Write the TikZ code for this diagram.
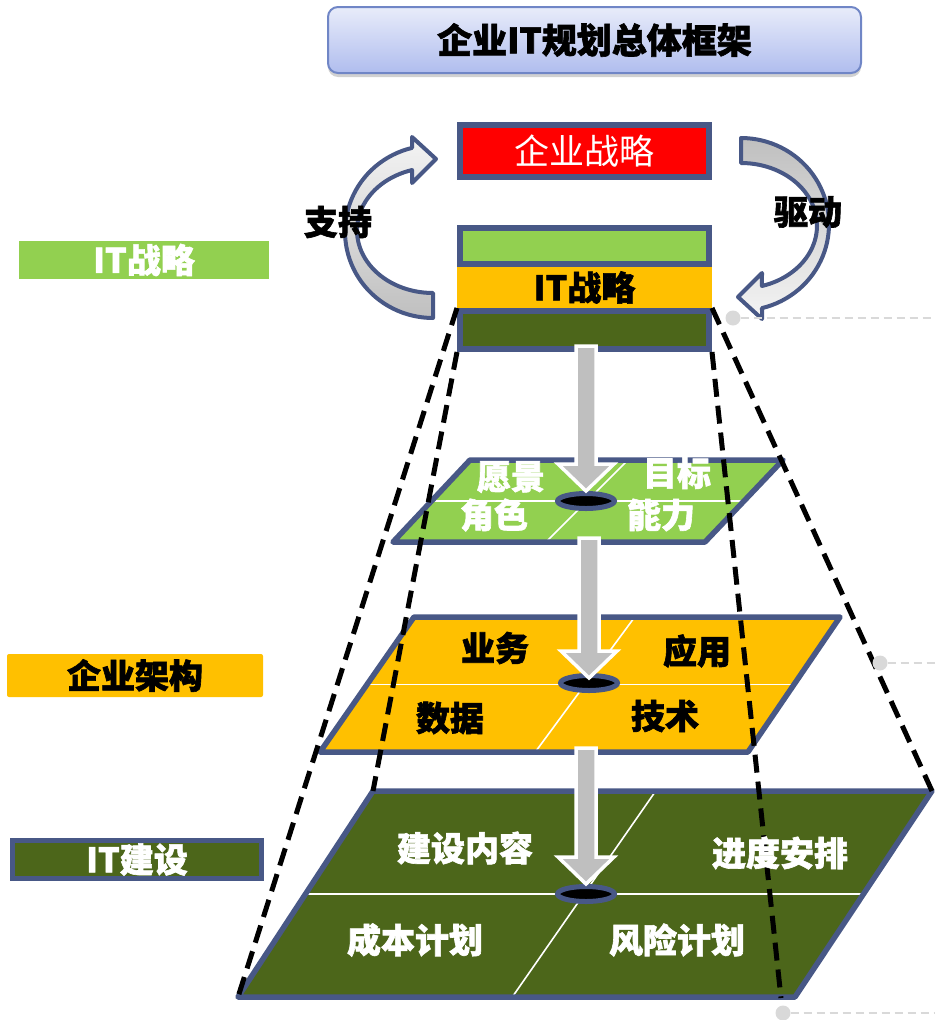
\documentclass[tikz,border=0pt]{standalone}
\usepackage{fontspec}
\setmainfont{Noto Sans CJK SC}[BoldFeatures={FakeBold=1.8}]
\usetikzlibrary{shadows,calc,shapes.geometric}
\definecolor{slate}{RGB}{72,88,134}
\definecolor{lgreen}{HTML}{92D050}
\definecolor{orng}{HTML}{FFC000}
\definecolor{dgreen}{HTML}{4C661A}
\definecolor{arrgray}{HTML}{BFBFBF}
\definecolor{arrlight}{HTML}{F4F4F4}
\definecolor{dotgray}{HTML}{D9D9D9}
\definecolor{titletop}{HTML}{E8ECFA}
\definecolor{titlebot}{HTML}{B0BDEE}
\definecolor{titleedge}{HTML}{7086C6}
\newcommand\blkarrow[2]{%
  \draw[blockarr] let \p1=(#1), \p2=(#2) in
   (\x2-10pt,\y1) -- (\x2-10pt,\y2+27pt) -- (\x2-28pt,\y2+27pt) -- (\x2,\y2)
   -- (\x2+28pt,\y2+27pt) -- (\x2+10pt,\y2+27pt) -- (\x2+10pt,\y1) -- cycle;}
\begin{document}
\begin{tikzpicture}[x=1pt,y=-1pt,
  lbl/.style={font=\fontsize{34}{36}\selectfont\bfseries, inner sep=0pt},
  regl/.style={font=\fontsize{35}{37}\selectfont, inner sep=0pt},
  box/.style={minimum width=249pt, inner sep=0pt, draw=slate, line width=6pt},
  para/.style={draw=slate, line width=5.5pt, line join=round},
  divline/.style={white, line width=1.6pt},
  hole/.style={ellipse, draw=slate, fill=black, line width=5pt, minimum width=57pt, minimum height=15pt, inner sep=0pt},
  blockarr/.style={draw=white, line width=3.5pt, fill=arrgray, line join=miter},
  pyrline/.style={black, line width=5pt, dash pattern=on 18pt off 9pt},
  guide/.style={dotgray, line width=2.5pt, dash pattern=on 8pt off 5pt},
  curvarr/.style={draw=slate, line width=4pt, line join=round},
]
\useasboundingbox (0,0) rectangle (935,1020);

% title
\node[font=\fontsize{35}{38}\selectfont\bfseries, minimum width=533pt, minimum height=66pt,
      rounded corners=10pt, top color=titletop, bottom color=titlebot, draw=titleedge, line width=2pt,
      drop shadow={shadow xshift=0pt, shadow yshift=-4pt, opacity=.3, fill=black!60}]
      (title) at (594.5,40) {企业IT规划总体框架};

% curved arrows
\draw[curvarr, top color=arrlight, bottom color=arrgray]
  (433,318) -- plot[domain=90:256.2, samples=50, variable=\t] ({433+88*cos(\t)},{231.7+86.3*sin(\t)})
  -- (412,137) -- (436,159) -- (412,183)
  -- plot[domain=254:90, samples=50, variable=\t] ({433+76*cos(\t)},{230.3+62.7*sin(\t)}) -- cycle;
\draw[curvarr, top color=arrgray, bottom color=arrlight]
  (741,138) -- plot[domain=-90:76.2, samples=50, variable=\t] ({741+88*cos(\t)},{224.3+86.3*sin(\t)})
  -- (762,319) -- (738,297) -- (762,273)
  -- plot[domain=74:-90, samples=50, variable=\t] ({741+76*cos(\t)},{225.7+62.7*sin(\t)}) -- cycle;

% strategy boxes
\node[box, fill=red, minimum height=52pt, text=white, regl] (es) at (584.5,151) {企业战略};
\node[box, fill=lgreen, minimum height=36pt] (gb) at (584.5,246) {};
\node[fill=orng, minimum width=255pt, minimum height=41pt, inner sep=0pt, lbl] (itb) at (584.5,287.5) {IT战略};
\node[box, fill=dgreen, minimum height=38pt] (dg) at (584.5,330) {};

% left labels
\node[lbl, fill=lgreen, text=white, minimum width=250pt, minimum height=38pt] (lIT) at (144,260) {IT战略};
\node[lbl, fill=orng, minimum width=256pt, minimum height=43pt, rounded corners=2pt] (lEA) at (135,675.5) {企业架构};
\node[lbl, fill=dgreen, draw=slate, line width=5pt, text=white, minimum width=249pt, minimum height=38pt] (lIB) at (137,859.5) {IT建设};

% parallelogram coordinates
\coordinate (gTL) at (470,460); \coordinate (gTR) at (783,460);
\coordinate (gBR) at (705,542); \coordinate (gBL) at (393,542);
\coordinate (oTL) at (414,617); \coordinate (oTR) at (840,617);
\coordinate (oBR) at (748,752); \coordinate (oBL) at (320,752);
\coordinate (dTL) at (373,791); \coordinate (dTR) at (932,791);
\coordinate (dBR) at (795,997); \coordinate (dBL) at (238,997);

% green parallelogram
\fill[lgreen] (gTL) -- (gTR) -- (gBR) -- (gBL) -- cycle;
\draw[divline] ($(gTL)!.5!(gBL)$) -- ($(gTR)!.5!(gBR)$);
\draw[divline] (627,461) -- (547,541);
\draw[para] (gTL) -- (gTR) -- (gBR) -- (gBL) -- cycle;
\node[hole] (h1) at (586,501) {};

% orange parallelogram
\fill[orng] (oTL) -- (oTR) -- (oBR) -- (oBL) -- cycle;
\draw[divline] ($(oTL)!.5!(oBL)$) -- ($(oTR)!.5!(oBR)$);
\draw[divline] (634,618) -- (536,751);
\draw[para] (oTL) -- (oTR) -- (oBR) -- (oBL) -- cycle;
\node[hole] (h2) at (589,683) {};

% dark green parallelogram
\fill[dgreen] (dTL) -- (dTR) -- (dBR) -- (dBL) -- cycle;
\draw[divline] ($(dTL)!.5!(dBL)$) -- ($(dTR)!.5!(dBR)$);
\draw[divline] (655,792) -- (513,996);
\draw[para] (dTL) -- (dTR) -- (dBR) -- (dBL) -- cycle;
\node[hole] (h3) at (586,894) {};

% vertical block arrows
\coordinate (a1s) at ($(dg.south)+(0,-6)$);
\coordinate (a2s) at (588,538);
\coordinate (a3s) at (586,748);
\blkarrow{a1s}{h1.north}
\blkarrow{a2s}{$(h2.north)+(0,5)$}
\blkarrow{a3s}{h3.north}

% pyramid dashed lines
\coordinate (dRin) at (781,998);
\draw[pyrline] (dg.north west) -- (dBL);
\draw[pyrline] (dg.south west) -- (dTL);
\draw[pyrline] (dg.north east) -- (dTR);
\draw[pyrline] (dg.south east) -- (dRin);

% guide dots and lines
\node[circle, fill=dotgray, minimum size=15pt, inner sep=0pt] (g1) at (733,318) {};
\node[circle, fill=dotgray, minimum size=15pt, inner sep=0pt] (g2) at (880,663) {};
\node[circle, fill=dotgray, minimum size=15pt, inner sep=0pt] (g3) at (783,1013) {};
\coordinate (g1e) at (935,318);
\coordinate (g2e) at (935,663);
\coordinate (g3e) at (935,1013);
\draw[guide] (g1.east) -- (g1e);
\draw[guide] (g2.east) -- (g2e);
\draw[guide] (g3.east) -- (g3e);

% arrow labels
\node[lbl] (zc) at (338,222) {支持};
\node[lbl] (qd) at (808,212) {驱动};

% parallelogram texts
\node[lbl, text=white] (t1) at (511,477) {愿景};
\node[lbl, text=white] (t2) at (677,473) {目标};
\node[lbl, text=white] (t3) at (494,515) {角色};
\node[lbl, text=white] (t4) at (661,515) {能力};
\node[lbl] (t5) at (495,648) {业务};
\node[lbl] (t6) at (697,651) {应用};
\node[lbl] (t7) at (450,718) {数据};
\node[lbl] (t8) at (665,716) {技术};
\node[lbl, text=white] (t9) at (465,848) {建设内容};
\node[lbl, text=white] (t10) at (780,853) {进度安排};
\node[lbl, text=white] (t11) at (415,940) {成本计划};
\node[lbl, text=white] (t12) at (677,940) {风险计划};
\end{tikzpicture}
\end{document}
